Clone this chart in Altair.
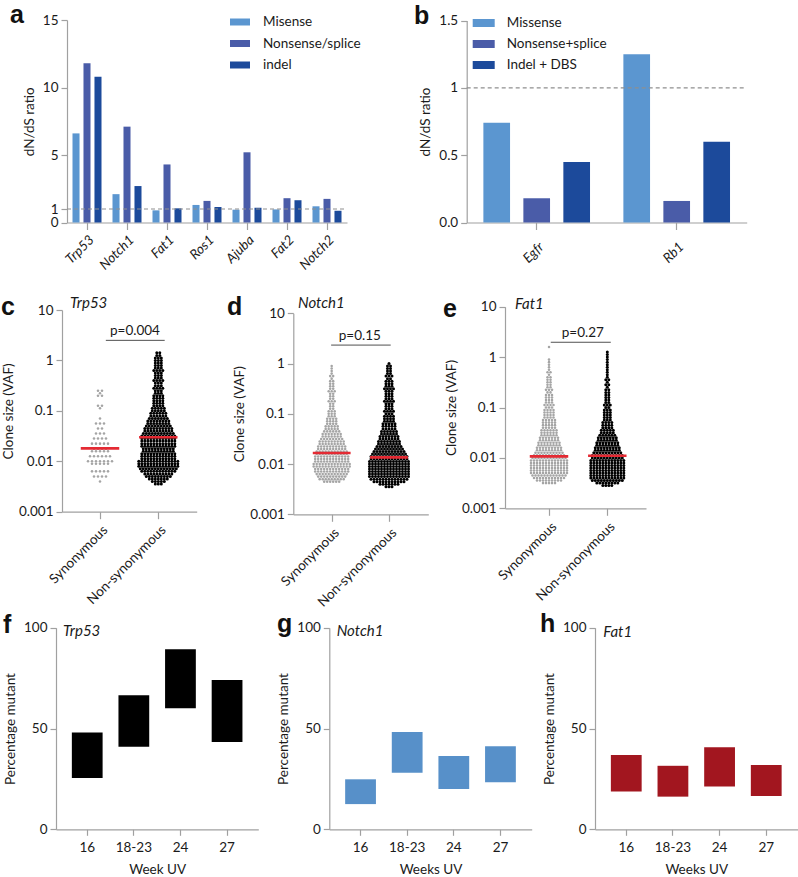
import altair as alt
import pandas as pd

W, H = 798, 877
FONT = "Lato"
AX = "#A0A0A0"
TXT = "#1a1a1a"
RED = "#E42A33"
TICK_FS = 13.5

# ---------------- a: dN/dS ratio per gene ----------------
genes_a = ["Trp53", "Notch1", "Fat1", "Ros1", "Ajuba", "Fat2", "Notch2"]
types_a = ["Misense", "Nonsense/splice", "indel"]
missense_a = [6.6, 2.1, 0.9, 1.3, 0.95, 0.97, 1.2]
nonsense_a = [11.8, 7.1, 4.3, 1.6, 5.2, 1.8, 1.75]
indel_a = [10.8, 2.7, 1.05, 1.15, 1.1, 1.65, 0.87]

# ---------------- b: dN/dS ratio, Egfr / Rb1 ----------------
genes_b = ["Egfr", "Rb1"]
types_b = ["Missense", "Nonsense+splice", "Indel + DBS"]
missense_b = [0.74, 1.25]
nonsense_b = [0.18, 0.16]
indel_b = [0.45, 0.6]

BLUES = ["#5B96D0", "#4A5CA8", "#1C4A9B"]

# ---------------- c-e: clone sizes (VAF) ----------------
# dots per row of the column scatter; rows are 0.05 log10 units apart,
# starting at the given log10(VAF)
ROW_STEP = 0.05
c_syn_start, c_syn_counts = -2.40, [1, 0, 4, 0, 5, 0, 0, 5, 7, 0, 6, 0, 5, 4, 0, 5, 0, 4, 0, 3, 0, 2, 0, 3, 0, 1, 0, 0, 0, 1, 2, 0, 0, 0, 2, 1, 2]
c_non_start, c_non_counts = -2.45, [3, 5, 7, 9, 10, 12, 13, 14, 14, 14, 12, 12, 12, 11, 11, 12, 12, 12, 12, 12, 11, 10, 10, 9, 8, 8, 7, 6, 6, 5, 5, 4, 4, 4, 4, 4, 3, 3, 4, 3, 3, 4, 3, 3, 3, 4, 3, 3, 3, 3, 3, 2, 2]
d_syn_start, d_syn_counts = -2.35, [6, 9, 10, 11, 12, 12, 13, 13, 12, 12, 12, 11, 11, 10, 10, 9, 9, 8, 7, 7, 6, 5, 5, 4, 4, 4, 3, 3, 3, 2, 2, 2, 3, 2, 2, 2, 3, 2, 2, 2, 2, 1, 2, 1, 1, 1, 1]
d_non_start, d_non_counts = -2.45, [3, 7, 11, 13, 14, 14, 14, 14, 14, 14, 14, 13, 13, 12, 11, 10, 9, 8, 8, 7, 7, 6, 6, 5, 5, 5, 4, 4, 4, 3, 4, 3, 3, 3, 4, 3, 3, 3, 3, 4, 3, 3, 3, 2, 3, 2, 2, 2, 2, 1]
e_syn_start, e_syn_counts = -2.50, [5, 9, 11, 12, 13, 13, 13, 13, 13, 13, 12, 11, 10, 9, 9, 8, 8, 7, 7, 6, 6, 6, 5, 5, 5, 5, 4, 4, 4, 4, 3, 4, 3, 3, 3, 3, 2, 3, 2, 2, 2, 2, 2, 1, 2, 1, 1, 1, 1, 1, 0, 0, 0, 0, 1]
e_non_start, e_non_counts = -2.55, [4, 8, 11, 12, 12, 12, 12, 12, 12, 12, 12, 11, 11, 10, 9, 9, 8, 8, 7, 7, 6, 5, 5, 4, 4, 4, 3, 3, 3, 3, 3, 2, 3, 2, 2, 2, 2, 2, 2, 1, 2, 1, 2, 1, 1, 1, 1, 1, 1, 1, 1, 1, 1, 1]
medians_c = [0.018, 0.030]
medians_d = [0.0166, 0.0136]
medians_e = [0.0107, 0.0110]
p_c, p_d, p_e = "p=0.004", "p=0.15", "p=0.27"

# ---------------- f-h: percentage mutant ranges ----------------
weeks = ["16", "18-23", "24", "27"]
trp53_lo, trp53_hi = [25.5, 41.0, 60.0, 43.3], [48.0, 66.5, 89.3, 74.1]
notch1_lo, notch1_hi = [12.5, 28.0, 20.0, 23.3], [24.8, 48.3, 36.4, 41.2]
fat1_lo, fat1_hi = [18.7, 16.2, 21.2, 16.5], [36.9, 31.5, 40.7, 31.9]


def ax(**kw):
    style = dict(domainColor=AX, tickColor=AX, labelColor=TXT, titleColor=TXT,
                 labelFont=FONT, titleFont=FONT, labelFontSize=TICK_FS, titleFontSize=13.5,
                 titleFontWeight="normal", grid=False, tickSize=6, domainWidth=1.2,
                 tickWidth=1.2, labelOverlap=False, labelFlush=False, labelPadding=3)
    style.update(kw)
    return alt.Axis(**style)


def legend(x, y, w, h, offset, pad):
    half = h / w
    return alt.Legend(orient="none", legendX=x, legendY=y, title=None, padding=0,
                      symbolType=f"M-1,-{half:.3f}H1V{half:.3f}H-1Z", symbolSize=w * w,
                      symbolStrokeWidth=0, symbolOpacity=1, labelFont=FONT, labelFontSize=13.5,
                      labelColor=TXT, labelOffset=offset, rowPadding=pad)


def dnds_panel(genes, types, series, x_rng, y_top, y_dom, y_vals, y_label_expr,
               off_pad, leg, label_pad):
    rows = []
    for t, vals in zip(types, series):
        for g, v in zip(genes, vals):
            rows.append({"gene": g, "type": t, "ratio": v})
    df = pd.DataFrame(rows)
    y_bottom = 222.5
    yscale = alt.Scale(domain=y_dom, range=[y_bottom, y_top], nice=False, zero=True)
    bars = alt.Chart(df).mark_bar().encode(
        x=alt.X("gene:N", sort=genes,
                scale=alt.Scale(range=x_rng, paddingInner=0, paddingOuter=0),
                axis=ax(orient="bottom", offset=-(H - y_bottom), title=None, labelAngle=-45,
                        labelFontStyle="italic", tickSize=7, labelPadding=label_pad)),
        xOffset=alt.XOffset("type:N", sort=types,
                            scale=alt.Scale(paddingInner=off_pad[0], paddingOuter=off_pad[1])),
        y=alt.Y("ratio:Q", scale=yscale,
                axis=ax(orient="left", offset=-x_rng[0], values=y_vals, labelExpr=y_label_expr,
                        title="dN/dS ratio", titlePadding=6)),
        color=alt.Color("type:N", sort=types,
                        scale=alt.Scale(domain=types, range=BLUES), legend=leg),
    )
    ref = alt.Chart(pd.DataFrame({"ref": [1.0]})).mark_rule(
        strokeDash=[4, 3], color="#8F8F8F", strokeWidth=1.1).encode(
        y=alt.Y("ref:Q", scale=yscale, axis=None),
        x=alt.value(x_rng[0]), x2=alt.value(x_rng[1]))
    return alt.layer(bars, ref).resolve_axis(x="independent", y="independent")


panel_a = dnds_panel(genes_a, types_a, [missense_a, nonsense_a, indel_a], [67, 347], 20,
                     [0, 15], [0, 1, 5, 10, 15], "datum.label", (0.36, 0.5),
                     legend(230, 12, 20, 7, 13, 4.5), 3)
panel_b = dnds_panel(genes_b, types_b, [missense_b, nonsense_b, indel_b], [466.7, 746.7], 20.5,
                     [0, 1.5], [0, 0.5, 1, 1.5],
                     "datum.value == 1 ? '1' : format(datum.value, '.1f')", (0.333, 0.417),
                     legend(472.7, 12, 22, 8, 12, 3), 10)


def swarm(start, counts, center, px_per_unit, gap_px):
    xs, vs = [], []
    for i, n in enumerate(counts):
        v = 10 ** (start + ROW_STEP * i)
        for j in range(n):
            xs.append(center + (j - (n - 1) / 2) * gap_px / px_per_unit)
            vs.append(v)
    return pd.DataFrame({"x": xs, "vaf": vs})


def clone_panel(syn, non, meds, p_label, p_x, bracket, x_rng, x_dom, y_rng, gap_syn):
    ppu = (x_rng[1] - x_rng[0]) / (x_dom[1] - x_dom[0])
    xs = alt.Scale(domain=x_dom, range=x_rng, zero=False, nice=False)
    ys = alt.Scale(type="log", domain=[0.001, 10], range=y_rng, nice=False)
    d_syn = swarm(syn[0], syn[1], 0, ppu, gap_syn)
    d_non = swarm(non[0], non[1], 1, ppu, 3.0)
    gray = alt.Chart(d_syn).mark_circle(size=6.5, color="#A5A5A5", opacity=1).encode(
        x=alt.X("x:Q", scale=xs,
                axis=ax(orient="bottom", offset=-(H - y_rng[0]), values=[0, 1], title=None,
                        labelExpr="datum.value == 0 ? 'Synonymous' : 'Non-synonymous'",
                        labelAngle=-45, tickSize=7, labelPadding=4)),
        y=alt.Y("vaf:Q", scale=ys,
                axis=ax(orient="left", offset=-x_rng[0], values=[0.001, 0.01, 0.1, 1, 10],
                        format="~g", title="Clone size (VAF)", titlePadding=3)))
    black = alt.Chart(d_non).mark_circle(size=9, color="#000000", opacity=1).encode(
        x=alt.X("x:Q", scale=xs, axis=None), y=alt.Y("vaf:Q", scale=ys, axis=None))
    half = 0.33
    mdf = pd.DataFrame({"x1": [-half, 1 - half], "x2": [half, 1 + half], "vaf": meds})
    med = alt.Chart(mdf).mark_rule(color=RED, strokeWidth=2.6).encode(
        x=alt.X("x1:Q", scale=xs, axis=None), x2="x2:Q",
        y=alt.Y("vaf:Q", scale=ys, axis=None))
    bdf = pd.DataFrame({"x1": [bracket[0]], "x2": [bracket[1]], "vaf": [bracket[2]],
                        "xm": [p_x], "label": [p_label]})
    br = alt.Chart(bdf).mark_rule(color="#505050", strokeWidth=1).encode(
        x=alt.X("x1:Q", scale=xs, axis=None), x2="x2:Q",
        y=alt.Y("vaf:Q", scale=ys, axis=None))
    txt = alt.Chart(bdf).mark_text(font=FONT, fontSize=13.5, dy=-5, baseline="alphabetic",
                                   color=TXT).encode(
        x=alt.X("xm:Q", scale=xs, axis=None), y=alt.Y("vaf:Q", scale=ys, axis=None),
        text="label:N")
    return alt.layer(gray, black, med, br, txt).resolve_axis(x="independent", y="independent")


panel_c = clone_panel((c_syn_start, c_syn_counts), (c_non_start, c_non_counts), medians_c,
                      p_c, 0.6, (0.1, 1.11, 2.5), [62, 196.7], [-0.652, 1.659],
                      [511.7, 310], 4.0)
panel_d = clone_panel((d_syn_start, d_syn_counts), (d_non_start, d_non_counts), medians_d,
                      p_d, 0.49, (-0.01, 1.03, 2.33), [293.3, 428.3], [-0.670, 1.686],
                      [514.3, 313.3], 3.0)
panel_e = clone_panel((e_syn_start, e_syn_counts), (e_non_start, e_non_counts), medians_e,
                      p_e, 0.58, (0.03, 1.06, 1.97), [505, 646], [-0.755, 1.664],
                      [508.3, 306.7], 3.0)


def range_panel(lo, hi, color, x_rng, xtitle):
    df = pd.DataFrame({"week": weeks, "lo": lo, "hi": hi})
    y0, y1 = 829.3, 627.7
    return alt.Chart(df).mark_bar(color=color, opacity=1).encode(
        x=alt.X("week:N", sort=weeks,
                scale=alt.Scale(range=x_rng, paddingInner=0.34, paddingOuter=0.34),
                axis=ax(orient="bottom", offset=-(H - y0), title=xtitle, labelAngle=0,
                        tickSize=6, labelPadding=5, titlePadding=9)),
        y=alt.Y("lo:Q", scale=alt.Scale(domain=[0, 100], range=[y0, y1], nice=False),
                axis=ax(orient="left", offset=-x_rng[0], values=[0, 50, 100],
                        title="Percentage mutant", titlePadding=6)),
        y2="hi:Q")


panel_f = range_panel(trp53_lo, trp53_hi, "#000000", [56, 258.3], "Week UV")
panel_g = range_panel(notch1_lo, notch1_hi, "#5790C9", [329.3, 531.7], "Weeks UV")
panel_h = range_panel(fat1_lo, fat1_hi, "#A2161F", [595, 797.5], "Weeks UV")

# panel letters and gene names, placed in page pixels
letters = pd.DataFrame({
    "t": ["a", "b", "c", "d", "e", "f", "g", "h"],
    "px": [10, 414, 1, 227, 443, 3, 277, 540],
    "py": [23, 24, 315, 315, 317, 633, 632, 632],
})
genes_lbl = pd.DataFrame({
    "t": ["Trp53", "Notch1", "Fat1", "Trp53", "Notch1", "Fat1"],
    "px": [70, 298, 515, 63, 336.7, 603.3],
    "py": [308, 308, 309, 636, 636, 637],
})
letter_layer = alt.Chart(letters).mark_text(
    font="Liberation Sans", fontSize=25, fontWeight="bold", align="left",
    baseline="alphabetic", color="#111111").encode(
    x=alt.X("px:Q", scale=None, axis=None), y=alt.Y("py:Q", scale=None, axis=None), text="t:N")
gene_layer = alt.Chart(genes_lbl).mark_text(
    font=FONT, fontSize=15, fontStyle="italic", align="left", baseline="alphabetic",
    color=TXT).encode(
    x=alt.X("px:Q", scale=None, axis=None), y=alt.Y("py:Q", scale=None, axis=None), text="t:N")

chart = alt.layer(
    panel_a, panel_b, panel_c, panel_d, panel_e, panel_f, panel_g, panel_h,
    letter_layer, gene_layer,
).resolve_scale(
    x="independent", y="independent", color="independent", xOffset="independent"
).properties(
    width=W, height=H, autosize=alt.AutoSizeParams(type="none"), padding=0
).configure_view(stroke=None)

chart.save("out.html", embed_options={"renderer": "svg", "actions": False})
